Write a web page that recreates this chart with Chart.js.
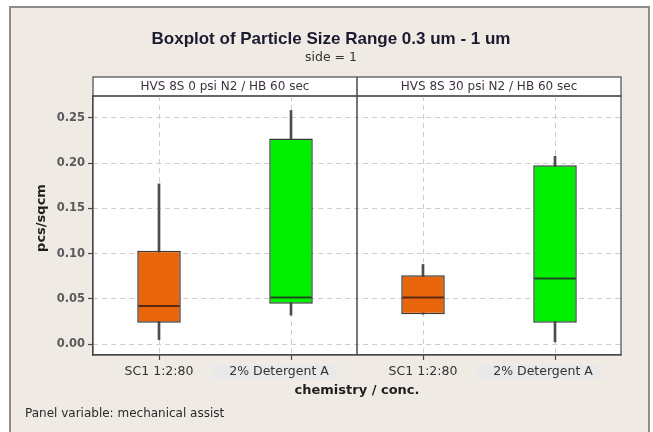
<!DOCTYPE html>
<html>
<head>
<meta charset="utf-8">
<script src="https://cdn.jsdelivr.net/npm/chart.js@4.4.1/dist/chart.umd.min.js"></script>
<style>
  html, body { margin: 0; padding: 0; background: #ffffff; overflow: hidden; }
  #wrap { position: relative; width: 653px; height: 432px; }
</style>
</head>
<body>
<div id="wrap"><canvas id="c" width="653" height="432"></canvas></div>
<script>
// Box-plot summaries per chemistry, two panels (mechanical assist) side by side
const categories  = ['SC1 1:2:80', '2% Detergent A', 'SC1 1:2:80', '2% Detergent A'];
const panelLabels = ['HVS 8S 0 psi N2 / HB 60 sec', 'HVS 8S 30 psi N2 / HB 60 sec'];
const whiskerLow  = [0.005, 0.032, 0.033, 0.0025];
const q1          = [0.0235, 0.0445, 0.033, 0.0235];
const median      = [0.042, 0.0515, 0.0515, 0.0725];
const q3          = [0.103, 0.227, 0.076, 0.1976];
const whiskerHigh = [0.177, 0.258, 0.088, 0.2075];
const yTickValues = [0, 0.05, 0.10, 0.15, 0.20, 0.25];

const boxColors    = ['#e8650c', '#00f000', '#e8650c', '#00f000'];
const medianColors = ['#5a2a0c', '#1f4a1f', '#5a2a0c', '#1f4a1f'];

const SANS = '"DejaVu Sans", Verdana, sans-serif';

// Page frame, panel header strips and white plotting background
const framePlugin = {
  id: 'frame',
  beforeDraw(chart) {
    const { ctx, chartArea: a, scales: { x } } = chart;
    ctx.save();
    ctx.fillStyle = '#ffffff';
    ctx.fillRect(0, 0, chart.width, chart.height);
    ctx.fillStyle = '#efebe4';
    ctx.fillRect(10, 7, 639, 440);
    ctx.strokeStyle = '#8c8c8c';
    ctx.lineWidth = 2;
    ctx.strokeRect(10, 7, 639, 440);
    ctx.fillStyle = '#ffffff';
    ctx.fillRect(a.left, a.top, a.right - a.left, a.bottom - a.top);

    // header strips
    const hTop = 77;
    const mid = (x.getPixelForValue(1) + x.getPixelForValue(2)) / 2;
    ctx.fillStyle = '#ffffff';
    ctx.fillRect(a.left, hTop, a.right - a.left, a.top - hTop);
    ctx.strokeStyle = '#4a4a4a';
    ctx.lineWidth = 1.2;
    ctx.strokeRect(a.left, hTop, a.right - a.left, a.top - hTop);
    ctx.font = '12px ' + SANS;
    ctx.fillStyle = '#3f3342';
    ctx.textAlign = 'center';
    ctx.textBaseline = 'middle';
    ctx.fillText(panelLabels[0], (a.left + mid) / 2, (hTop + a.top) / 2 + 0.5);
    ctx.fillText(panelLabels[1], (mid + a.right) / 2, (hTop + a.top) / 2 + 0.5);
    ctx.restore();
  },
  afterDatasetsDraw(chart) {
    const { ctx, chartArea: a, scales: { x, y } } = chart;
    ctx.save();
    // median lines across each box
    const meta = chart.getDatasetMeta(1);
    meta.data.forEach((el, i) => {
      const { x: cx, width } = el.getProps(['x', 'width'], true);
      const py = y.getPixelForValue(median[i]);
      ctx.strokeStyle = medianColors[i];
      ctx.lineWidth = 2;
      ctx.beginPath();
      ctx.moveTo(cx - width / 2 + 1, py);
      ctx.lineTo(cx + width / 2 - 1, py);
      ctx.stroke();
    });
    // plot frame and panel divider
    const mid = (x.getPixelForValue(1) + x.getPixelForValue(2)) / 2;
    ctx.strokeStyle = '#4a4a4a';
    ctx.lineWidth = 1.2;
    ctx.strokeRect(a.left, a.top, a.right - a.left, a.bottom - a.top);
    ctx.lineWidth = 1.5;
    ctx.beginPath();
    ctx.moveTo(mid, 77);
    ctx.lineTo(mid, a.bottom);
    ctx.stroke();
    ctx.restore();
  },
  afterDraw(chart) {
    const { ctx, chartArea: a, scales: { x } } = chart;
    ctx.save();
    ctx.textAlign = 'center';
    ctx.textBaseline = 'middle';

    // category labels under each tick; detergent labels sit on a pale tag
    categories.forEach((lab, i) => {
      const px = x.getPixelForValue(i);
      ctx.font = '12.5px ' + SANS;
      if (lab.startsWith('2%')) {
        ctx.fillStyle = '#e9e9e9';
        ctx.fillRect(px - 79, 365, 126, 14);
        ctx.fillStyle = '#333333';
        ctx.fillText(lab, px - 12, 372);
      } else {
        ctx.fillStyle = '#333333';
        ctx.fillText(lab, px, 372);
      }
    });

    // axis titles
    ctx.fillStyle = '#1e1e1e';
    ctx.font = 'bold 13px ' + SANS;
    ctx.fillText('chemistry / conc.', (a.left + a.right) / 2, 391);
    ctx.save();
    ctx.translate(42, 218);
    ctx.rotate(-Math.PI / 2);
    ctx.fillText('pcs/sqcm', 0, 0);
    ctx.restore();

    // title block
    ctx.fillStyle = '#1a1a30';
    ctx.font = 'bold 17px "Liberation Sans", Arial, sans-serif';
    ctx.fillText('Boxplot of Particle Size Range 0.3 um - 1 um', 331, 39);
    ctx.fillStyle = '#333333';
    ctx.font = '12.5px ' + SANS;
    ctx.fillText('side = 1', 331, 58);

    // footer
    ctx.textAlign = 'left';
    ctx.font = '12px ' + SANS;
    ctx.fillStyle = '#2a2a2a';
    ctx.fillText('Panel variable: mechanical assist', 25, 414);
    ctx.restore();
  }
};

new Chart(document.getElementById('c'), {
  type: 'bar',
  data: {
    labels: categories,
    datasets: [
      {
        label: 'whisker',
        data: categories.map((_, i) => [whiskerLow[i], whiskerHigh[i]]),
        backgroundColor: '#4d4d4d',
        barThickness: 2,
        order: 2
      },
      {
        label: 'box',
        data: categories.map((_, i) => [q1[i], q3[i]]),
        backgroundColor: boxColors,
        borderColor: '#3a3a3a',
        borderWidth: 1.5,
        borderSkipped: false,
        barPercentage: 0.33,
        categoryPercentage: 1,
        order: 1
      }
    ]
  },
  options: {
    responsive: false,
    devicePixelRatio: 1,
    animation: false,
    datasets: { bar: { grouped: false } },
    layout: { padding: { left: 0, top: 96, right: 32, bottom: 0 } },
    plugins: { legend: { display: false }, tooltip: { enabled: false }, title: { display: false } },
    scales: {
      x: {
        type: 'category',
        offset: true,
        afterFit(s) { s.height = 77; },
        grid: {
          offset: false,
          color: '#cdcdcd',
          lineWidth: 1,
          drawTicks: true,
          tickLength: 5,
          tickColor: '#4a4a4a',
          tickWidth: 1.2,
          tickBorderDash: []
        },
        border: { display: true, color: '#4a4a4a', width: 1.2, dash: [5, 4] },
        ticks: { display: false }
      },
      y: {
        type: 'linear',
        min: -0.012,
        max: 0.274,
        afterFit(s) { s.width = 93; },
        afterBuildTicks(s) { s.ticks = yTickValues.map(v => ({ value: v })); },
        grid: {
          color: '#cdcdcd',
          lineWidth: 1,
          drawTicks: true,
          tickLength: 5,
          tickColor: '#4a4a4a',
          tickWidth: 1.2,
          tickBorderDash: []
        },
        border: { display: true, color: '#4a4a4a', width: 1.2, dash: [5, 4] },
        ticks: {
          color: '#5a5a5a',
          padding: 3,
          font: { family: SANS, size: 11.5, weight: 'bold' },
          callback: v => v.toFixed(2)
        }
      }
    }
  },
  plugins: [framePlugin]
});
</script>
</body>
</html>
